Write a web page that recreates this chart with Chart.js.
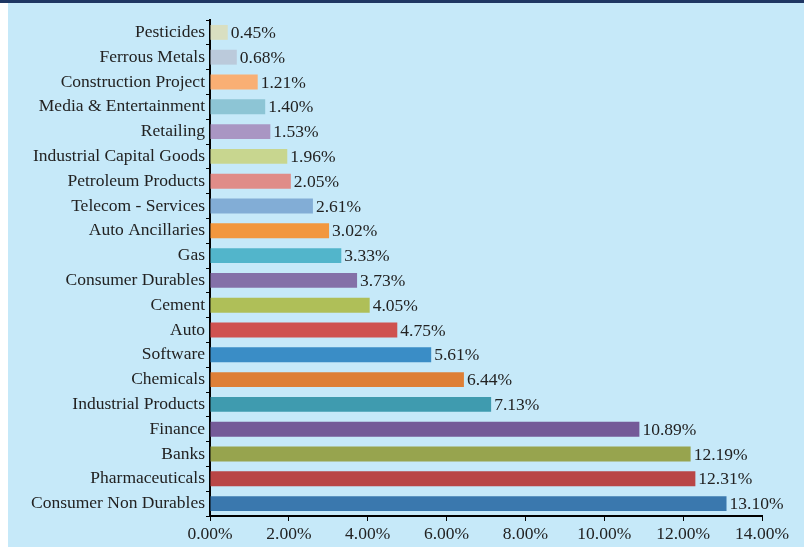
<!DOCTYPE html>
<html>
<head>
<meta charset="utf-8">
<script src="https://cdn.jsdelivr.net/npm/chart.js@4"></script>
<style>
  html, body { margin: 0; padding: 0; background: #ffffff; }
  body { width: 804px; height: 547px; position: relative; overflow: hidden; }
  #band { position: absolute; left: 0; top: 0; width: 804px; height: 3px; background: #1F3763; }
  #panel { position: absolute; left: 8px; top: 3px; width: 796px; height: 544px; background: #C6E9F9; }
  #wrap { position: absolute; left: 8px; top: 3px; width: 796px; height: 544px; }
</style>
</head>
<body>
<div id="band"></div>
<div id="panel"></div>
<div id="wrap"><canvas id="c" width="796" height="544"></canvas></div>
<script>
const categories = [
  "Pesticides", "Ferrous Metals", "Construction Project", "Media & Entertainment",
  "Retailing", "Industrial Capital Goods", "Petroleum Products", "Telecom - Services",
  "Auto Ancillaries", "Gas", "Consumer Durables", "Cement", "Auto", "Software",
  "Chemicals", "Industrial Products", "Finance", "Banks", "Pharmaceuticals",
  "Consumer Non Durables"
];
const values = [
  0.45, 0.68, 1.21, 1.40, 1.53, 1.96, 2.05, 2.61, 3.02, 3.33,
  3.73, 4.05, 4.75, 5.61, 6.44, 7.13, 10.89, 12.19, 12.31, 13.10
];
const barColors = [
  "#D9DFC1", "#BBCADB", "#F9AF74", "#8DC5D5", "#A996C3", "#C8D68F", "#E08C88",
  "#82ADD6", "#F2973E", "#52B5CB", "#8470A8", "#AFBF58", "#CF5250", "#3A8DC6",
  "#DE7F36", "#3F9BAF", "#745A98", "#97A44E", "#B94646", "#3A78AE"
];
const xTicks = [0, 2, 4, 6, 8, 10, 12, 14];

const FONT = "'Liberation Serif', 'DejaVu Serif', serif";

const valueLabels = {
  id: 'valueLabels',
  afterDatasetsDraw(chart) {
    const ctx = chart.ctx;
    const meta = chart.getDatasetMeta(0);
    ctx.save();
    ctx.font = "17.5px " + FONT;
    ctx.fillStyle = "#222222";
    ctx.textAlign = "left";
    ctx.textBaseline = "middle";
    meta.data.forEach((bar, i) => {
      ctx.fillText(values[i].toFixed(2) + "%", bar.x + 3, bar.y + 1);
    });
    ctx.restore();
  }
};

new Chart(document.getElementById('c'), {
  type: 'bar',
  data: {
    labels: categories,
    datasets: [{
      data: values,
      backgroundColor: barColors,
      borderWidth: 0,
      barPercentage: 0.6,
      categoryPercentage: 1.0
    }]
  },
  options: {
    indexAxis: 'y',
    responsive: false,
    animation: false,
    layout: { padding: { top: 17, right: 42, left: 0, bottom: 0 } },
    plugins: { legend: { display: false }, tooltip: { enabled: false } },
    scales: {
      x: {
        min: 0, max: 14,
        afterBuildTicks(scale) { scale.ticks = xTicks.map(v => ({ value: v })); },
        afterFit(scale) { scale.height = 31; },
        ticks: {
          callback: v => Number(v).toFixed(2) + "%",
          color: "#222222",
          font: { family: FONT, size: 17.5 },
          padding: 3,
          maxRotation: 0
        },
        grid: { drawOnChartArea: false, drawTicks: true, tickLength: 5, color: "#000000", lineWidth: 1 },
        border: { display: true, color: "#000000", width: 2 }
      },
      y: {
        afterFit(scale) { scale.width = 202; },
        ticks: {
          color: "#222222",
          font: { family: FONT, size: 17.5 },
          padding: 1,
          autoSkip: false
        },
        grid: { drawOnChartArea: false, drawTicks: true, tickLength: 4, color: "#000000", lineWidth: 1, offset: true },
        border: { display: true, color: "#000000", width: 2 }
      }
    }
  },
  plugins: [valueLabels]
});
</script>
</body>
</html>
